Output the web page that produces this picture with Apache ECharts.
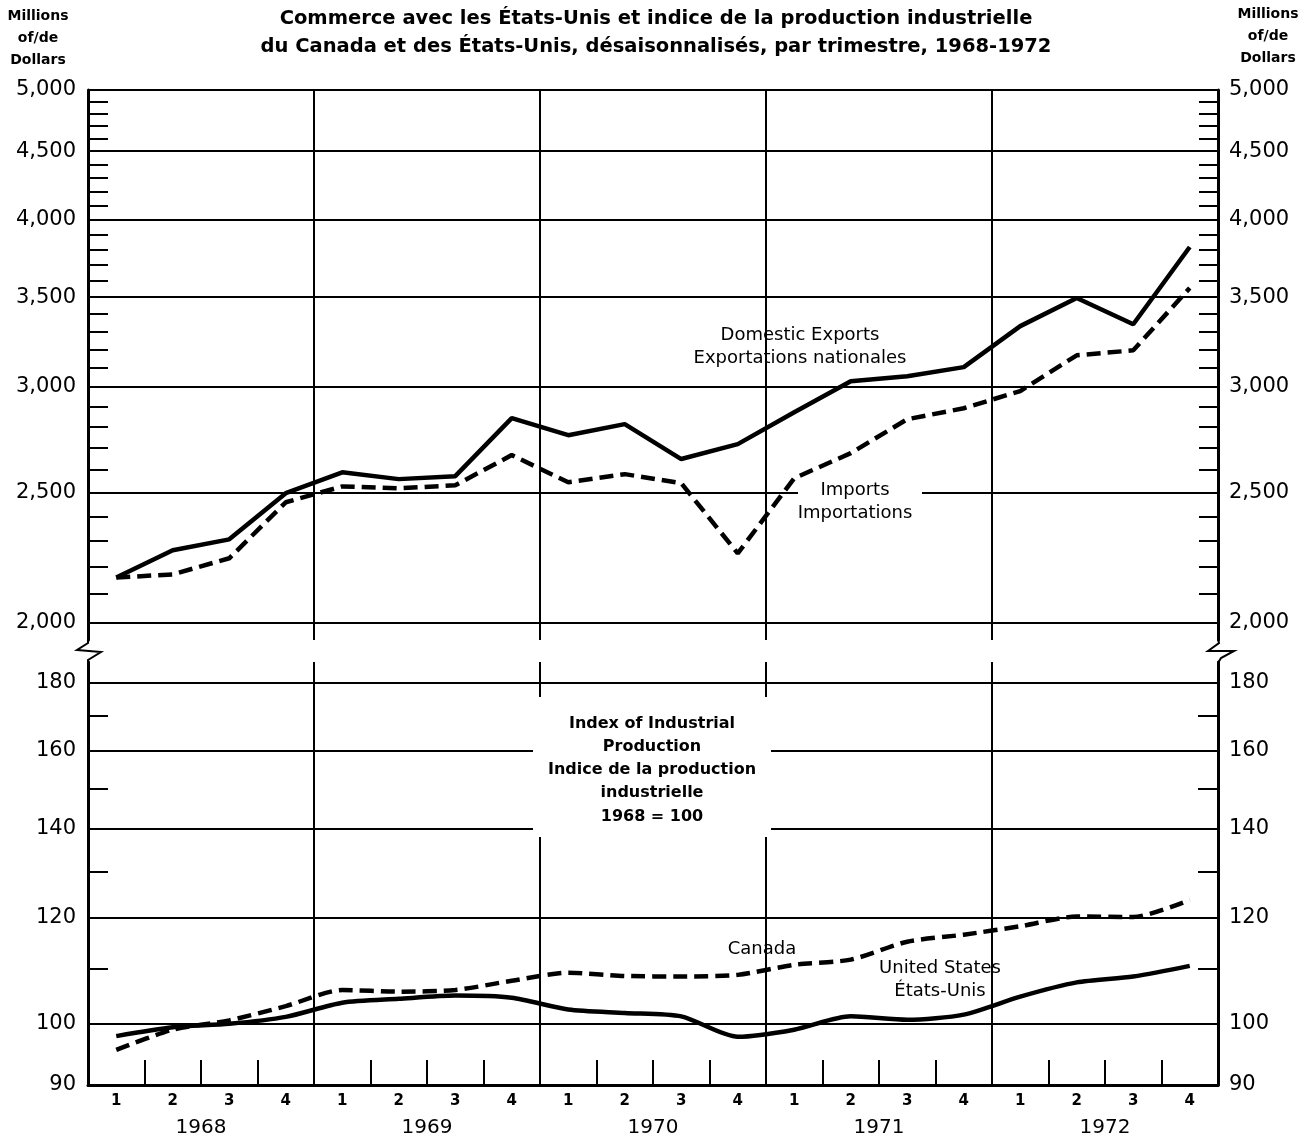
<!DOCTYPE html>
<html>
<head>
<meta charset="utf-8">
<script src="https://cdn.jsdelivr.net/npm/echarts@6/dist/echarts.min.js"></script>
<style>
  html, body { margin: 0; background: #fff; }
  #chart { width: 1312px; height: 1138px; }
</style>
</head>
<body>
<div id="chart"></div>
<script>
// trimestres 1968-1972
const quarters = [
  '1968-1', '1968-2', '1968-3', '1968-4',
  '1969-1', '1969-2', '1969-3', '1969-4',
  '1970-1', '1970-2', '1970-3', '1970-4',
  '1971-1', '1971-2', '1971-3', '1971-4',
  '1972-1', '1972-2', '1972-3', '1972-4'
]
const years = ['1968', '1969', '1970', '1971', '1972']

// millions de dollars
const exportsData = [2160, 2264, 2307, 2498, 2589, 2559, 2572, 2842, 2760, 2813,
  2649, 2718, 2871, 3029, 3055, 3103, 3330, 3495, 3341, 3816]
const importsData = [2160, 2172, 2233, 2459, 2527, 2519, 2532, 2667, 2545, 2581,
  2541, 2252, 2563, 2676, 2837, 2891, 2978, 3167, 3194, 3556]

// indice 1968 = 100
const canadaData = [95.6, 99.0, 100.6, 103.1, 106.0, 105.7, 106.0, 107.7, 109.2, 108.6,
  108.5, 108.8, 110.7, 111.7, 115.2, 116.6, 118.3, 120.3, 120.2, 123.8]
const usData = [97.9, 99.4, 100.0, 101.2, 103.7, 104.4, 105.0, 104.6, 102.5, 101.9,
  101.3, 97.8, 99.0, 101.3, 100.7, 101.6, 104.8, 107.4, 108.5, 110.5]

// graduations
const tradeLabels = [2000, 2500, 3000, 3500, 4000, 4500, 5000]
const tradeMinor = []
for (let v = 2000; v <= 5000; v += 100) tradeMinor.push(v)
const indexLabels = [90, 100, 120, 140, 160, 180]
const indexGrid = [100, 120, 140, 160, 180]
const indexMinor = [110, 130, 150, 170]

const FONT = 'DejaVu Sans'
const black = '#000'

function thousands (v) {
  return String(Math.round(v)).replace(/\B(?=(\d{3})+(?!\d))/g, ',')
}

function logAxis (opt) {
  // axe logarithmique commun aux deux panneaux
  return Object.assign({
    type: 'log',
    logBase: 10,
    axisLine: { show: false },
    axisTick: { show: false },
    axisLabel: { show: false },
    splitLine: { show: false }
  }, opt)
}

function label (x, y, text, font, lh) {
  return {
    type: 'text', x: x, y: y, z: 100,
    style: {
      text: text, font: font, fill: black,
      align: 'center', textAlign: 'center',
      verticalAlign: 'middle', textVerticalAlign: 'middle',
      lineHeight: lh || 23
    }
  }
}

const chart = echarts.init(document.getElementById('chart'))

chart.setOption({
  backgroundColor: '#fff',
  animation: false,
  textStyle: { fontFamily: FONT },
  title: {
    text: 'Commerce avec les États-Unis et indice de la production industrielle\ndu Canada et des États-Unis, désaisonnalisés, par trimestre, 1968-1972',
    left: 651,
    top: 0,
    textAlign: 'center',
    textStyle: { fontFamily: FONT, fontSize: 19.5, fontWeight: 'bold', color: black, lineHeight: 28 }
  },
  grid: [
    { left: 88, right: 94, top: 90, height: 550 },
    { left: 88, right: 94, top: 662, height: 423 }
  ],
  xAxis: [
    {
      gridIndex: 0,
      type: 'category',
      data: quarters,
      boundaryGap: true,
      axisLine: { show: false },
      axisTick: { show: false },
      axisLabel: { show: false },
      splitLine: { show: true, interval: 3, lineStyle: { color: black, width: 2 } }
    },
    {
      gridIndex: 1,
      type: 'category',
      data: quarters,
      boundaryGap: true,
      axisLine: { show: true, lineStyle: { color: black, width: 3 } },
      axisTick: { show: true, inside: true, length: 25, interval: 0, lineStyle: { color: black, width: 2 } },
      axisLabel: {
        formatter: function (v) { return v.split('-')[1] },
        fontFamily: FONT, fontSize: 15, fontWeight: 'bold', color: black, margin: 9
      },
      splitLine: { show: true, interval: 3, lineStyle: { color: black, width: 2 } }
    },
    {
      gridIndex: 1,
      type: 'category',
      data: years,
      boundaryGap: true,
      position: 'bottom',
      offset: 25,
      axisLine: { show: false },
      axisTick: { show: false },
      axisLabel: { fontFamily: FONT, fontSize: 20, color: black, margin: 8 },
      splitLine: { show: false }
    }
  ],
  yAxis: [
    logAxis({
      gridIndex: 0, position: 'left', min: 1940, max: 5000,
      axisLine: { show: true, lineStyle: { color: black, width: 3 } },
      axisTick: { show: false, customValues: tradeLabels },
      axisLabel: { show: true, customValues: tradeLabels, formatter: thousands, fontFamily: FONT, fontSize: 21, color: black, margin: 12 },
      splitLine: { show: true, lineStyle: { color: black, width: 2 } }
    }),
    logAxis({
      gridIndex: 0, position: 'right', min: 1940, max: 5000,
      axisLine: { show: true, lineStyle: { color: black, width: 3 } },
      axisTick: { show: true, inside: true, length: 19, customValues: tradeMinor, lineStyle: { color: black, width: 2 } },
      axisLabel: { show: true, customValues: tradeLabels, formatter: thousands, fontFamily: FONT, fontSize: 21, color: black, margin: 11 }
    }),
    logAxis({
      gridIndex: 0, position: 'left', min: 1940, max: 5000,
      axisTick: { show: true, inside: true, length: 20, customValues: tradeMinor, lineStyle: { color: black, width: 2 } }
    }),
    logAxis({
      gridIndex: 1, position: 'left', min: 90, max: 186.5,
      axisLine: { show: true, lineStyle: { color: black, width: 3 } },
      axisTick: { show: false, customValues: indexGrid },
      axisLabel: { show: true, customValues: indexLabels, formatter: thousands, fontFamily: FONT, fontSize: 21, color: black, margin: 12 },
      splitLine: { show: true, lineStyle: { color: black, width: 2 } }
    }),
    logAxis({
      gridIndex: 1, position: 'right', min: 90, max: 186.5,
      axisLine: { show: true, lineStyle: { color: black, width: 3 } },
      axisTick: { show: true, inside: true, length: 20, customValues: indexMinor, lineStyle: { color: black, width: 2 } },
      axisLabel: { show: true, customValues: indexLabels, formatter: thousands, fontFamily: FONT, fontSize: 21, color: black, margin: 11 }
    }),
    logAxis({
      gridIndex: 1, position: 'left', min: 90, max: 186.5,
      axisTick: { show: true, inside: true, length: 20, customValues: indexMinor, lineStyle: { color: black, width: 2 } }
    })
  ],
  series: [
    {
      name: 'Domestic Exports', type: 'line', xAxisIndex: 0, yAxisIndex: 0,
      data: exportsData, symbol: 'none',
      lineStyle: { color: black, width: 4.5 }
    },
    {
      name: 'Imports', type: 'line', xAxisIndex: 0, yAxisIndex: 0,
      data: importsData, symbol: 'none',
      lineStyle: { color: black, width: 4.5, type: [14, 7] }
    },
    {
      name: 'United States', type: 'line', xAxisIndex: 1, yAxisIndex: 3,
      data: usData, symbol: 'none', smooth: 0.25,
      lineStyle: { color: black, width: 4.5 }
    },
    {
      name: 'Canada', type: 'line', xAxisIndex: 1, yAxisIndex: 3,
      data: canadaData, symbol: 'none', smooth: 0.25,
      lineStyle: { color: black, width: 4.5, type: [14, 7] }
    }
  ],
  graphic: [
    // unités
    label(38, 38, 'Millions\nof/de\nDollars', 'bold 14px ' + FONT, 22),
    label(1268, 36, 'Millions\nof/de\nDollars', 'bold 14px ' + FONT, 22),
    // coupures d'échelle
    {
      type: 'polyline', z: 100,
      shape: { points: [[88, 639], [88, 643], [77, 650], [101, 652], [88, 660], [88, 663]] },
      style: { stroke: black, lineWidth: 2, fill: null }
    },
    {
      type: 'polyline', z: 100,
      shape: { points: [[1218, 639], [1219, 643], [1208, 651], [1234, 651], [1221, 658], [1218, 663]] },
      style: { stroke: black, lineWidth: 2, fill: null }
    },
    // étiquettes des courbes
    label(800, 347, 'Domestic Exports\nExportations nationales', '18px ' + FONT),
    {
      type: 'rect', z: 99,
      shape: { x: 798, y: 480, width: 124, height: 45 },
      style: { fill: '#fff' }
    },
    label(855, 502, 'Imports\nImportations', '18px ' + FONT),
    label(762, 949, 'Canada', '18px ' + FONT),
    label(940, 980, 'United States\nÉtats-Unis', '18px ' + FONT),
    {
      type: 'rect', z: 99,
      shape: { x: 533, y: 697, width: 238, height: 140 },
      style: { fill: '#fff' }
    },
    label(652, 770, 'Index of Industrial\nProduction\nIndice de la production\nindustrielle\n1968 = 100', 'bold 16px ' + FONT, 23.3)
  ]
})
</script>
</body>
</html>
